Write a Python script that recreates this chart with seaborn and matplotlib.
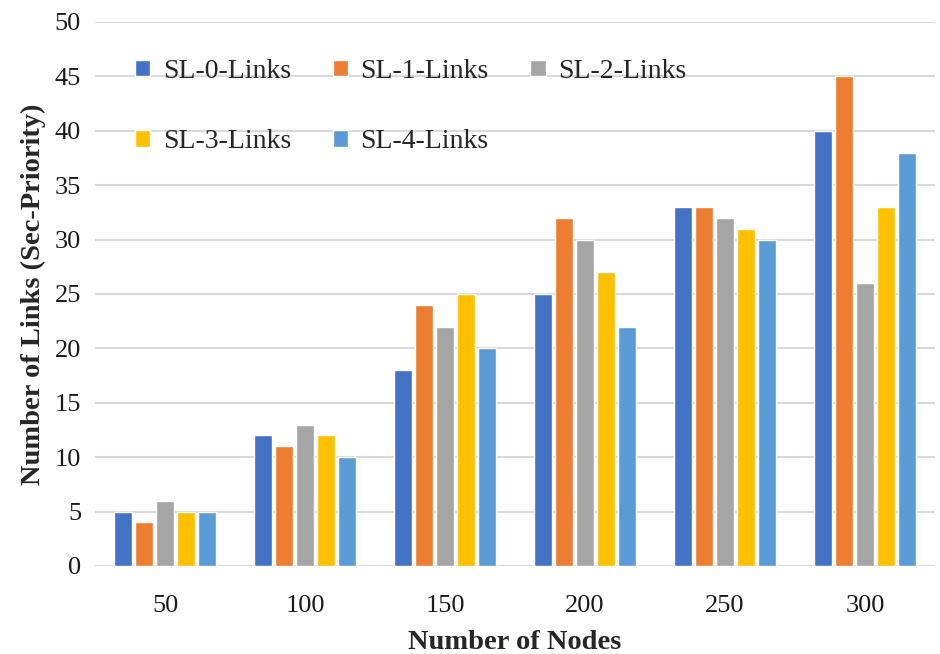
import seaborn as sns
import matplotlib.pyplot as plt
import pandas as pd

nodes = ["50", "100", "150", "200", "250", "300"]
series = ["SL-0-Links", "SL-1-Links", "SL-2-Links", "SL-3-Links", "SL-4-Links"]
sl0 = [5, 12, 18, 25, 33, 40]
sl1 = [4, 11, 24, 32, 33, 45]
sl2 = [6, 13, 22, 30, 32, 26]
sl3 = [5, 12, 25, 27, 31, 33]
sl4 = [5, 10, 20, 22, 30, 38]

colors = ["#4472C4", "#ED7D31", "#A5A5A5", "#FFC000", "#5B9BD5"]

df = pd.DataFrame([(n, s, v)
                   for s, vals in zip(series, [sl0, sl1, sl2, sl3, sl4])
                   for n, v in zip(nodes, vals)],
                  columns=["Nodes", "Series", "Links"])

sns.set_style("white")
plt.rcParams['font.family'] = ['Liberation Serif', 'DejaVu Serif']

fig = plt.figure(figsize=(9.4, 6.54), dpi=100)
ax = fig.add_axes([95 / 940, 1 - 566 / 654, 840 / 940, 544 / 654])

sns.barplot(data=df, x="Nodes", y="Links", hue="Series", order=nodes,
            hue_order=series, palette=colors, width=0.75, gap=0.18,
            saturation=1, ax=ax, zorder=3)

ax.set_ylim(0, 50)
ax.set_yticks(range(0, 51, 5))
ax.set_xlim(-0.5, 5.5)
ax.yaxis.grid(True, color="#D9D9D9", linewidth=1.5, zorder=0)
ax.set_axisbelow(True)
for sp in ax.spines.values():
    sp.set_visible(False)
ax.tick_params(axis="both", length=0, labelsize=19, colors="#1a1a1a")
ax.tick_params(axis="x", pad=21)
ax.tick_params(axis="y", pad=10)

ax.set_xlabel("Number of Nodes", fontsize=20.5, fontweight="bold", labelpad=9)
ax.set_ylabel("Number of Links (Sec-Priority)", fontsize=20.5, fontweight="bold", labelpad=6)

ax.legend_.remove()
handles, labels = ax.get_legend_handles_labels()
# row-major order: SL-0, SL-1, SL-2 on first row, SL-3, SL-4 on second
order = [0, 3, 1, 4, 2]
fig.legend([handles[i] for i in order], [labels[i] for i in order],
           loc="upper left", bbox_to_anchor=(121 / 940, 1 - 45 / 654),
           ncol=3, frameon=False, fontsize=20, handlelength=0.55,
           handleheight=0.55, handletextpad=0.45, columnspacing=1.5,
           labelspacing=1.63, borderpad=0)

fig.savefig("out.png", dpi=100)
